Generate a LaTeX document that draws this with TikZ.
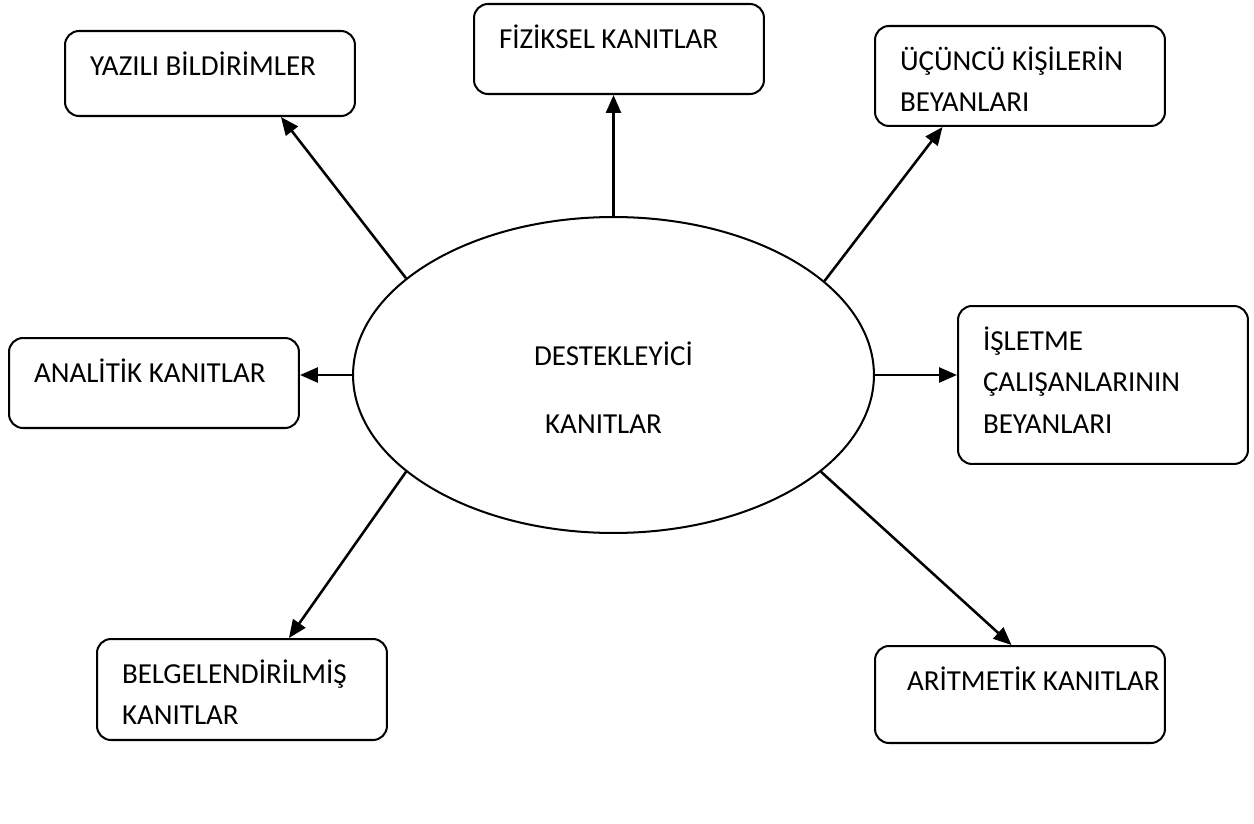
\documentclass[tikz,border=0pt]{standalone}
\usepackage{fontspec}
\setmainfont{Carlito}
\usetikzlibrary{arrows.meta,shapes.geometric}

\newcommand{\kutumetin}[2]{\parbox[t][#1][t]{4.8cm}{\raggedright #2}}

\begin{document}
\begin{tikzpicture}[x=0.02cm,y=-0.02cm,
  kutu/.style={draw,line width=1.15pt,rounded corners=0.28cm,
    anchor=north west,inner xsep=0.5cm,inner ysep=0.42cm},
  merkez/.style={draw,ellipse,line width=1.15pt,
    minimum width=10.42cm,minimum height=6.32cm,inner sep=0pt,align=center},
  ok/.style={-{Triangle[length=0.36cm,width=0.3cm]},line width=1.45pt},
  font=\fontsize{16.5}{23.5}\selectfont]
 \useasboundingbox (0,0) rectangle (1254,824);

 % merkez
 \node[merkez] (e) at (613.5,375)
   {\rule{0pt}{28pt}DESTEKLEYİCİ\\[15pt]KANITLAR\hspace*{0.4cm}};

 % kutular
 \node[kutu] (yazili) at (64,30) {\kutumetin{0.86cm}{YAZILI BİLDİRİMLER}};
 \node[kutu] (fiziksel) at (473,3) {\kutumetin{0.96cm}{FİZİKSEL KANITLAR}};
 \node[kutu] (ucuncu) at (874,25) {\kutumetin{1.16cm}{ÜÇÜNCÜ KİŞİLERİN\\BEYANLARI}};
 \node[kutu] (analitik) at (8,337) {\kutumetin{0.96cm}{ANALİTİK KANITLAR}};
 \node[kutu] (isletme) at (957,305)
   {\kutumetin{2.32cm}{İŞLETME\\ÇALIŞANLARININ\\BEYANLARI}};
 \node[kutu] (belge) at (96,638) {\kutumetin{1.18cm}{BELGELENDİRİLMİŞ\\KANITLAR}};
 \node[kutu] (aritmetik) at (874,645)
   {\kutumetin{1.10cm}{\hspace*{0.14cm}\mbox{ARİTMETİK KANITLAR}}};

 % oklar
 \draw[ok] (e.155.7) -- ([xshift=1.42cm]yazili.south);
 \draw[ok] (e.north) -- (e.north |- fiziksel.south);
 \draw[ok] (e.24.4) -- ([xshift=-1.55cm]ucuncu.south);
 \draw[ok] (e.west) -- (e.west -| analitik.east);
 \draw[ok] (e.east) -- (e.east -| isletme.west);
 \draw[ok] (e.205) -- ([xshift=0.94cm]belge.north);
 \draw[ok] (e.335.1) -- ([xshift=-0.17cm]aritmetik.north);

\end{tikzpicture}
\end{document}
